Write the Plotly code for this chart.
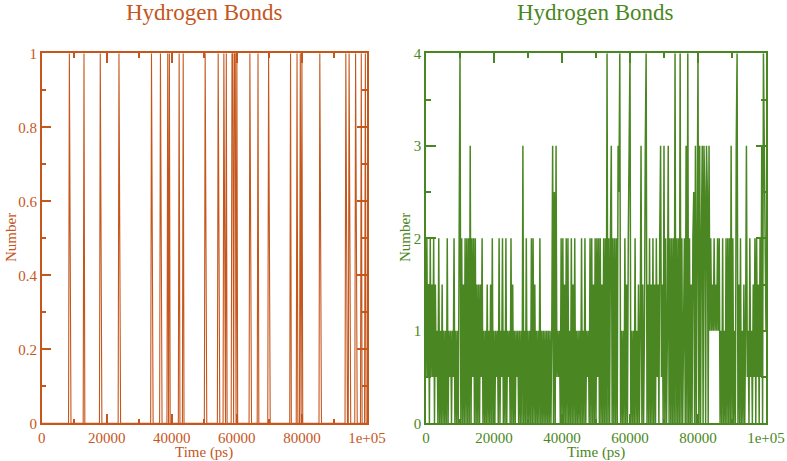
import numpy as np
import plotly.graph_objects as go

# ---------------- data ----------------
time_step_ps = 250
time_end_ps = 100000

# Left panel: times (ps) where bonds were present, and their values (0 elsewhere)
hb1_event_times = [8500, 8750, 13000, 18000, 18250, 23750, 24000, 33750, 34000,
                   36500, 36750, 38750, 39250, 42250, 43500, 50250, 50500, 54250,
                   54500, 56000, 56250, 56750, 58500, 58750, 59250, 59500, 60000,
                   64000, 64250, 66500, 69750, 70000, 76500, 78500, 79500, 80000,
                   85500, 85750, 93500, 93750, 94500, 94750, 96500, 96750, 98250, 99500]
hb1_event_values = [1, 0.5, 1, 1, 0.5, 1, 0.5, 1, 0.5,
                    1, 0.5, 1, 1, 1, 1, 1, 0.5, 1,
                    0.5, 1, 0.5, 1, 1, 1, 1, 1, 1,
                    1, 0.5, 1, 1, 0.5, 1, 1, 1, 1,
                    1, 0.5, 1, 0.5, 1, 0.5, 1, 0.5, 1, 1]

# Right panel: number of hydrogen bonds every 250 ps
hb2_0_20ns = [0.5, 2, 0.5, 1.5, 0, 2, 0.5, 1.5, 0.5, 2, 0, 1.5, 0.5, 1, 0, 2, 0, 1, 0, 1.5,
              0, 1, 0, 1, 0, 2, 0, 1, 0.5, 1, 0, 1, 0.5, 2, 0, 1, 0, 1, 0, 2,
              4, 0, 2, 0, 1.5, 0, 2, 0, 2, 0, 2, 0, 3, 0, 2, 0.5, 2, 0, 2, 0,
              1.5, 0, 1.5, 0, 1.5, 0.5, 2, 0, 1, 0, 1, 0, 1.5, 0, 1, 0, 1.5, 0, 2, 0]
hb2_20_40ns = [1, 0, 1, 0.5, 1, 0, 2, 0, 1, 0.5, 2, 0, 1, 0, 2, 0, 1, 0.5, 1, 0,
               2, 0, 1.5, 0, 1, 0, 1, 0.5, 1, 0, 1, 0, 1, 0, 3, 0, 1, 0, 2, 0,
               1, 0, 1, 0, 2, 0, 2, 0, 1.5, 0, 1, 0, 1, 0, 2, 0, 1, 0, 1, 0,
               1, 0, 1, 0, 1, 0, 1, 0, 1, 3, 0, 2.5, 0, 3, 0.5, 1, 0.5, 1, 0, 2]
hb2_40_60ns = [0, 2, 0, 1.5, 0, 2, 0, 2, 0, 1, 0, 2, 0, 1.5, 0, 2, 0, 1, 0, 1,
               0, 1, 0, 2, 0, 1, 0, 2, 0, 1, 0.5, 1, 0, 2, 0, 2, 0, 1.5, 0, 2,
               0, 2, 0.5, 2, 0, 2, 0, 1.5, 0, 2, 0, 2, 0, 4, 0, 2, 0, 2, 3, 0,
               2, 0, 2, 0, 2, 0, 3, 2.5, 4, 0, 1, 0, 1, 0, 2, 0, 1.5, 0, 2, 3]
hb2_60_80ns = [4, 0, 1, 0, 1, 0, 2, 0, 1, 0, 1.5, 0, 1, 3, 0, 1.5, 0, 1, 3, 4,
               0, 1.5, 0, 2, 0, 1.5, 0, 2, 0, 1.5, 0, 2, 0.5, 1.5, 0, 2, 3, 0.5, 1.5, 0,
               3, 0, 2, 0, 1, 3, 0, 2, 0, 2, 0, 2, 0, 4, 0, 2, 0, 2, 0, 4,
               0, 2, 0, 1, 2, 0, 3, 0, 4, 0, 2, 0, 1.5, 0, 2, 2.5, 0, 3, 0, 2]
hb2_80_100ns = [4, 0, 3, 0, 2, 3, 0, 3, 2.5, 0, 3, 2.5, 0, 3, 1, 2, 1, 1.5, 1, 2,
                1, 1.5, 1, 2, 1, 2, 0, 1, 0, 2, 0, 1, 0, 2, 0, 2, 0, 2, 0, 3,
                0, 2, 0, 1, 0, 3, 4, 0, 1.5, 0, 2, 0, 1, 0, 1.5, 0, 1, 3, 0.5, 1,
                0, 2, 0.5, 1, 0, 1.5, 0.5, 2, 0, 2, 0.5, 1.5, 0, 2, 0.5, 3, 0, 4, 3, 2,
                1]

x_tickvals = [0, 20000, 40000, 60000, 80000, 100000]
x_ticktext = ["0", "20000", "40000", "60000", "80000", "1e+05"]
title_text = "Hydrogen Bonds"
x_title = "Time (ps)"
y_title = "Number"

# ---------------- build series ----------------
time_ps = np.arange(0, time_end_ps + 1, time_step_ps)
hb1 = np.zeros(len(time_ps))
for t_e, v in zip(hb1_event_times, hb1_event_values):
    hb1[int(t_e // time_step_ps)] = v
hb2 = np.array(hb2_0_20ns + hb2_20_40ns + hb2_40_60ns + hb2_60_80ns + hb2_80_100ns, dtype=float)

ORANGE = "#c5561c"
GREEN = "#4a8722"
FONT = "Liberation Serif"

fig = go.Figure()
fig.add_trace(go.Scatter(x=time_ps, y=hb1, mode="lines", xaxis="x", yaxis="y",
                         line=dict(color=ORANGE, width=1.1, simplify=False), showlegend=False))
fig.add_trace(go.Scatter(x=time_ps, y=hb2, mode="lines", xaxis="x2", yaxis="y2",
                         line=dict(color=GREEN, width=1.5, simplify=False), showlegend=False))


def xaxis_style(color, domain, anchor):
    return dict(domain=domain, anchor=anchor, range=[0, time_end_ps], automargin=False,
                tickmode="array", tickvals=x_tickvals, ticktext=x_ticktext,
                ticks="inside", ticklen=10, tickwidth=1.5, tickcolor=color,
                showline=True, linecolor=color, linewidth=1.5, mirror="allticks",
                showgrid=False, zeroline=False,
                tickfont=dict(family=FONT, size=15, color=color),
                minor=dict(tickmode="linear", tick0=0, dtick=10000, ticks="inside",
                           ticklen=5, tickwidth=1.5, tickcolor=color, showgrid=False))


def yaxis_style(color, domain, anchor, yr, dt, mdt):
    return dict(domain=domain, anchor=anchor, range=yr, automargin=False,
                tickmode="linear", tick0=0, dtick=dt,
                ticks="inside", ticklen=10, tickwidth=1.5, tickcolor=color,
                showline=True, linecolor=color, linewidth=1.5, mirror="allticks",
                showgrid=False, zeroline=False,
                tickfont=dict(family=FONT, size=15, color=color),
                minor=dict(tickmode="linear", tick0=0, dtick=mdt, ticks="inside",
                           ticklen=5, tickwidth=1.5, tickcolor=color, showgrid=False))


left_dom = [0.053, 0.4663]
right_dom = [0.5413, 0.9733]
ydom = [0.0818, 0.8844]


def text_note(text, x, y, color, size, angle=0):
    return dict(text=text, x=x, y=y, xref="paper", yref="paper", xanchor="center",
                yanchor="middle", showarrow=False, textangle=angle,
                font=dict(family=FONT, size=size, color=color))


fig.update_layout(
    width=787, height=461,
    margin=dict(l=0, r=0, t=0, b=0),
    paper_bgcolor="white", plot_bgcolor="white",
    xaxis=xaxis_style(ORANGE, left_dom, "y"),
    yaxis=yaxis_style(ORANGE, ydom, "x", [0, 1], 0.2, 0.1),
    xaxis2=xaxis_style(GREEN, right_dom, "y2"),
    yaxis2=yaxis_style(GREEN, ydom, "x2", [0, 4], 1, 0.5),
    annotations=[
        text_note(title_text, sum(left_dom) / 2, 1 - 13 / 461, ORANGE, 23),
        text_note(title_text, sum(right_dom) / 2, 1 - 13 / 461, GREEN, 23),
        text_note(x_title, sum(left_dom) / 2, 1 - 452 / 461, ORANGE, 15),
        text_note(x_title, sum(right_dom) / 2, 1 - 452 / 461, GREEN, 15),
        text_note(y_title, 11 / 787, 1 - 238 / 461, ORANGE, 15, -90),
        text_note(y_title, 405 / 787, 1 - 238 / 461, GREEN, 15, -90),
    ],
)

fig.write_html("out.html", config={"displayModeBar": False},
               post_script="document.body.style.margin='0px';")
